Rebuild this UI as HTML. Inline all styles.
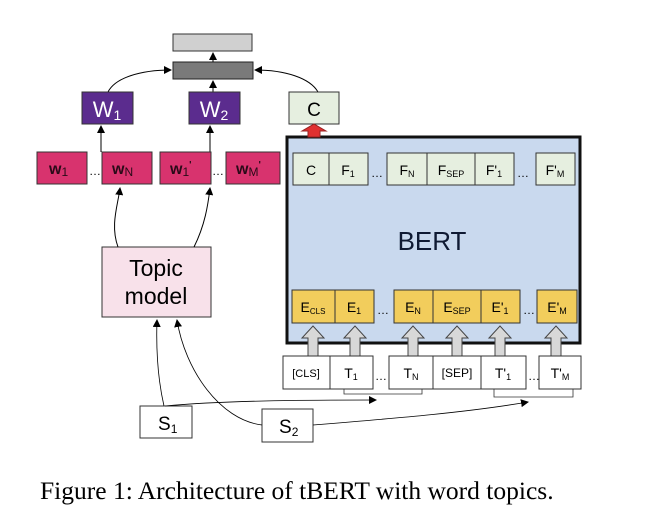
<!DOCTYPE html>
<html><head><style>
body{margin:0;background:#fff}
svg text{font-family:"Liberation Sans",sans-serif}
</style></head><body>
<svg width="664" height="520" viewBox="0 0 664 520" xmlns="http://www.w3.org/2000/svg">
<defs>
<marker id="a" markerWidth="8" markerHeight="8" refX="7" refY="4" orient="auto" markerUnits="userSpaceOnUse"><path d="M0,0 L8,4 L0,8 z" fill="#000"/></marker>
</defs>
<rect width="664" height="520" fill="#fff"/>
<rect x="173" y="34" width="79" height="17" fill="#d0d0d0" stroke="#333"/>
<rect x="173" y="62" width="80" height="17" fill="#7a7a7a" stroke="#222"/>
<line x1="213" y1="62" x2="213" y2="53" stroke="#000" marker-end="url(#a)"/>
<line x1="213" y1="92" x2="213" y2="81" stroke="#000" marker-end="url(#a)"/>
<path d="M108,92 C115,78 140,70 171,70" fill="none" stroke="#000" marker-end="url(#a)"/>
<path d="M318,92 C310,78 285,70 255,70" fill="none" stroke="#000" marker-end="url(#a)"/>
<rect x="82" y="92" width="51" height="32" fill="#5b2c8e" stroke="#333"/>
<text x="107" y="117" font-size="22" fill="#fff" text-anchor="middle">W<tspan font-size="14" dy="3">1</tspan></text>
<rect x="189" y="92" width="51" height="32" fill="#5b2c8e" stroke="#333"/>
<text x="214" y="117" font-size="22" fill="#fff" text-anchor="middle">W<tspan font-size="14" dy="3">2</tspan></text>
<rect x="289" y="92" width="50" height="32" fill="#e6efe0" stroke="#333"/>
<text x="314" y="116" font-size="19" text-anchor="middle">C</text>
<line x1="101" y1="152" x2="101" y2="126" stroke="#000" marker-end="url(#a)"/>
<line x1="210" y1="152" x2="210" y2="126" stroke="#000" marker-end="url(#a)"/>
<g fill="#d8336e" stroke="#333">
<rect x="37" y="152" width="50" height="32"/><rect x="102" y="152" width="50" height="32"/>
<rect x="160" y="152" width="51" height="32"/><rect x="226" y="152" width="54" height="32"/>
</g>
<g font-size="16" fill="#2a0a18" font-weight="bold">
<text x="49" y="174">w<tspan font-size="12" dy="2" font-weight="normal">1</tspan></text>
<text x="112" y="174">w<tspan font-size="12" dy="2" font-weight="normal">N</tspan></text>
<text x="170" y="174">w<tspan font-size="12" dy="2" font-weight="normal">1</tspan><tspan font-size="10" dy="-8">'</tspan></text>
<text x="236" y="174">w<tspan font-size="12" dy="2" font-weight="normal">M</tspan><tspan font-size="10" dy="-8">'</tspan></text>
</g>
<text x="89" y="175" font-size="12">…</text><text x="212" y="175" font-size="12">…</text>
<rect x="102" y="247" width="109" height="70" fill="#f8e1ea" stroke="#333"/>
<text x="156" y="276" font-size="23" text-anchor="middle">Topic</text>
<text x="156" y="304" font-size="23" text-anchor="middle">model</text>
<path d="M118,247 C110,225 118,205 120,188" fill="none" stroke="#000" marker-end="url(#a)"/>
<path d="M194,247 C205,225 208,205 210,188" fill="none" stroke="#000" marker-end="url(#a)"/>
<rect x="287" y="137" width="293" height="206" fill="#c9d9ee" stroke="#111" stroke-width="3"/>
<path d="M308,137 V131 H302 L314,124 L326,131 H320 V137 z" fill="#e03030" stroke="#922"/>
<text x="432" y="250" font-size="26" fill="#0f1a33" text-anchor="middle">BERT</text>
<g fill="#e6efe0" stroke="#333">
<rect x="293" y="153" width="36" height="32"/><rect x="329" y="153" width="39" height="32"/>
<rect x="387" y="153" width="40" height="32"/><rect x="427" y="153" width="48" height="32"/>
<rect x="475" y="153" width="39" height="32"/><rect x="536" y="153" width="39" height="32"/>
</g>
<g font-size="14" text-anchor="middle">
<text x="311" y="175">C</text>
<text x="348" y="175">F<tspan font-size="9" dy="2">1</tspan></text>
<text x="407" y="175">F<tspan font-size="9" dy="2">N</tspan></text>
<text x="451" y="175">F<tspan font-size="9" dy="2">SEP</tspan></text>
<text x="494" y="175">F'<tspan font-size="9" dy="2">1</tspan></text>
<text x="555" y="175">F'<tspan font-size="9" dy="2">M</tspan></text>
</g>
<text x="371" y="177" font-size="12">…</text><text x="517" y="177" font-size="12">…</text>
<g fill="#f2cd5c" stroke="#333">
<rect x="292" y="290" width="43" height="33"/><rect x="335" y="290" width="39" height="33"/>
<rect x="394" y="290" width="39" height="33"/><rect x="433" y="290" width="48" height="33"/>
<rect x="481" y="290" width="39" height="33"/><rect x="537" y="290" width="40" height="33"/>
</g>
<g font-size="14" text-anchor="middle">
<text x="313" y="312">E<tspan font-size="8" dy="2">CLS</tspan></text>
<text x="354" y="312">E<tspan font-size="9" dy="2">1</tspan></text>
<text x="413" y="312">E<tspan font-size="9" dy="2">N</tspan></text>
<text x="457" y="312">E<tspan font-size="9" dy="2">SEP</tspan></text>
<text x="500" y="312">E'<tspan font-size="9" dy="2">1</tspan></text>
<text x="557" y="312">E'<tspan font-size="9" dy="2">M</tspan></text>
</g>
<text x="377" y="314" font-size="12">…</text><text x="523" y="314" font-size="12">…</text>
<g fill="#d8d8d8" stroke="#444">
<path id="ha" d="M-5,356 V338 H-11 L0,326 L11,338 H5 V356 z" transform="translate(313,0)"/>
<use href="#ha" x="42"/><use href="#ha" x="100"/><use href="#ha" x="144"/><use href="#ha" x="187"/><use href="#ha" x="243"/>
</g>
<g fill="#fff" stroke="#333">
<rect x="283" y="356" width="47" height="33"/><rect x="330" y="356" width="43" height="33"/>
<rect x="389" y="356" width="44" height="33"/><rect x="433" y="356" width="48" height="33"/>
<rect x="481" y="356" width="45" height="33"/><rect x="539" y="356" width="42" height="33"/>
</g>
<g font-size="14" text-anchor="middle">
<text x="306" y="377" font-size="11">[CLS]</text>
<text x="351" y="378">T<tspan font-size="9" dy="2">1</tspan></text>
<text x="411" y="378">T<tspan font-size="9" dy="2">N</tspan></text>
<text x="457" y="377" font-size="12">[SEP]</text>
<text x="503" y="378">T'<tspan font-size="9" dy="2">1</tspan></text>
<text x="560" y="378">T'<tspan font-size="9" dy="2">M</tspan></text>
</g>
<text x="375" y="380" font-size="12">…</text><text x="528" y="380" font-size="12">…</text>
<path d="M344,389 V394 H422 V389" fill="none" stroke="#333" stroke-width="0.8"/>
<path d="M494,389 V397 H573 V389" fill="none" stroke="#333" stroke-width="0.8"/>
<rect x="140" y="406" width="52" height="32" fill="#fff" stroke="#333"/>
<text x="158" y="430" font-size="19">S<tspan font-size="12" dy="3">1</tspan></text>
<rect x="262" y="409" width="51" height="33" fill="#fff" stroke="#333"/>
<text x="279" y="433" font-size="19">S<tspan font-size="12" dy="3">2</tspan></text>
<path d="M164,406 C158,380 156,350 157,320" fill="none" stroke="#000" stroke-width="0.8" marker-end="url(#a)"/>
<path d="M262,425 C220,420 185,370 177,320" fill="none" stroke="#000" stroke-width="0.8" marker-end="url(#a)"/>
<path d="M165,406 C230,400 320,400 376,400" fill="none" stroke="#000" stroke-width="0.8" marker-end="url(#a)"/>
<path d="M313,425 C400,418 470,412 528,402" fill="none" stroke="#000" stroke-width="0.8" marker-end="url(#a)"/>
<text x="40" y="499" font-size="25.5" style="font-family:'Liberation Serif',serif">Figure 1: Architecture of tBERT with word topics.</text>
</svg>
</body></html>
